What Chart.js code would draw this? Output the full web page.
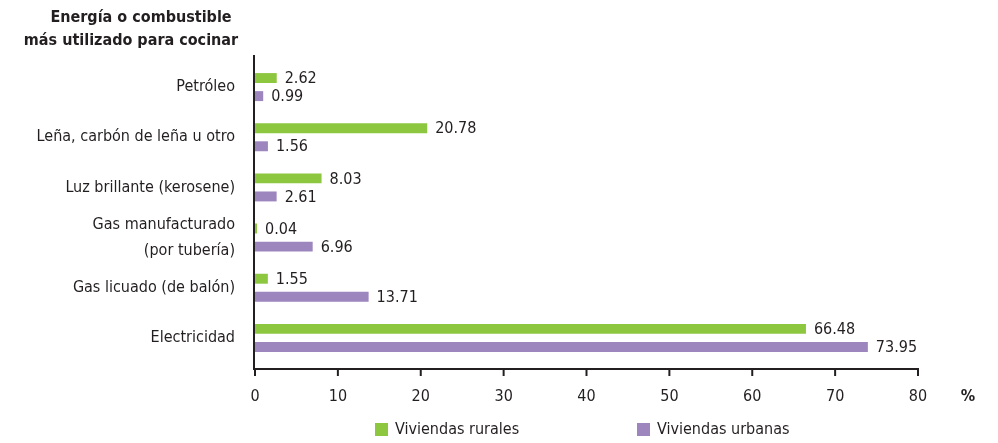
<!DOCTYPE html>
<html>
<head>
<meta charset="utf-8">
<script src="https://cdn.jsdelivr.net/npm/chart.js@4.4.0/dist/chart.umd.min.js"></script>
<style>
  html, body { margin: 0; padding: 0; background: #fff; }
  #wrap { width: 998px; height: 443px; position: relative; }
</style>
</head>
<body>
<div id="wrap"><canvas id="myChart"></canvas></div>
<script>
const categorias = ['Petróleo', 'Leña, carbón de leña u otro', 'Luz brillante (kerosene)', ['Gas manufacturado', '(por tubería)'], 'Gas licuado (de balón)', 'Electricidad'];
const rurales = [2.62, 20.78, 8.03, 0.04, 1.55, 66.48];
const urbanas = [0.99, 1.56, 2.61, 6.96, 13.71, 73.95];
const ticksX = [0, 10, 20, 30, 40, 50, 60, 70, 80];

const verde = '#8dc63f';
const morado = '#9d85be';
const texto = '#231f20';
const fuente = "'DejaVu Sans Condensed', 'Liberation Sans Narrow', sans-serif";

// etiquetas, ejes, titulo y leyenda
const extras = {
    id: 'extras',
    afterDatasetsDraw(chart) {
        const c = chart.ctx;
        const area = chart.chartArea;
        const x = chart.scales.x;
        const ejeY = area.bottom + 6;

        // valores junto a las barras
        c.save();
        c.font = '16px ' + fuente;
        c.fillStyle = texto;
        c.textBaseline = 'middle';
        c.textAlign = 'left';
        chart.data.datasets.forEach((ds, i) => {
            chart.getDatasetMeta(i).data.forEach((bar, j) => {
                c.fillText(ds.data[j].toFixed(2), bar.x + 8, bar.y + 1);
            });
        });

        // ejes
        c.strokeStyle = texto;
        c.lineWidth = 2;
        c.beginPath();
        c.moveTo(area.left - 1, area.top - 7);
        c.lineTo(area.left - 1, ejeY);
        c.lineTo(area.right + 1, ejeY);
        c.stroke();
        ticksX.forEach(v => {
            const px = x.getPixelForValue(v);
            c.beginPath();
            c.moveTo(px, ejeY);
            c.lineTo(px, ejeY + 7);
            c.stroke();
        });

        // %
        c.font = 'bold 16px ' + fuente;
        c.textAlign = 'center';
        c.fillText('%', 968, 397);

        // titulo
        c.font = 'bold 16px ' + fuente;
        c.fillText('Energía o combustible', 141, 18);
        c.fillText('más utilizado para cocinar', 131, 41);

        // leyenda
        const items = [[375, verde, 'Viviendas rurales'], [637, morado, 'Viviendas urbanas']];
        c.font = '16px ' + fuente;
        c.textAlign = 'left';
        items.forEach(it => {
            c.fillStyle = it[1];
            c.fillRect(it[0], 423, 13, 13);
            c.fillStyle = texto;
            c.fillText(it[2], it[0] + 20, 430);
        });
        c.restore();
    }
};

const ctx = document.getElementById('myChart');
const myChart = new Chart(ctx, {
    type: 'bar',
    data: {
        labels: categorias,
        datasets: [{
            label: 'Viviendas rurales',
            data: rurales,
            backgroundColor: verde,
            categoryPercentage: 0.72,
            barPercentage: 0.55,
            minBarLength: 2
        }, {
            label: 'Viviendas urbanas',
            data: urbanas,
            backgroundColor: morado,
            categoryPercentage: 0.72,
            barPercentage: 0.55,
            minBarLength: 2
        }]
    },
    options: {
        indexAxis: 'y',
        responsive: true,
        maintainAspectRatio: false,
        animation: false,
        layout: {
            padding: { top: 62, right: 80, bottom: 0, left: 0 }
        },
        plugins: {
            legend: { display: false },
            tooltip: { enabled: false }
        },
        scales: {
            x: {
                min: 0,
                max: 80,
                afterBuildTicks: s => { s.ticks = ticksX.map(v => ({ value: v })); },
                afterFit: s => { s.height = 80; },
                grid: { display: false, drawTicks: false },
                border: { display: false },
                ticks: {
                    padding: 24,
                    color: texto,
                    font: { family: fuente, size: 16 }
                }
            },
            y: {
                afterFit: s => { s.width = 255; },
                grid: { display: false, drawTicks: false },
                border: { display: false },
                ticks: {
                    autoSkip: false,
                    padding: 20,
                    color: texto,
                    font: { family: fuente, size: 16, lineHeight: 1.6 }
                }
            }
        }
    },
    plugins: [extras]
});
</script>
</body>
</html>
